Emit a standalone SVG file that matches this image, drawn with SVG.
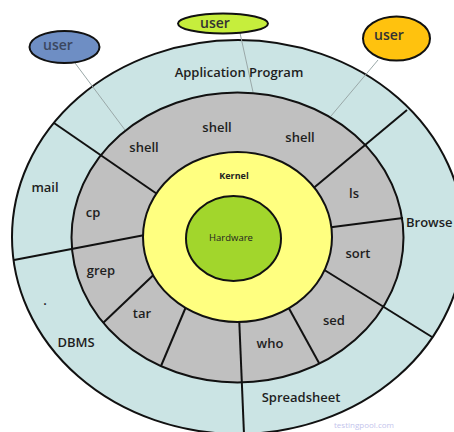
<svg xmlns="http://www.w3.org/2000/svg" width="454" height="432" viewBox="0 0 454 432">
  <style>
    .ring { stroke: #111; stroke-width: 2; }
    .div { stroke: #111; stroke-width: 2; fill: none; }
    .link { stroke: #9aa8a8; stroke-width: 1; fill: none; }
    .lbl { font-family: "Open Sans", "Noto Sans", sans-serif; font-size: 13px; font-weight: 600; fill: #1e1e1e; text-anchor: middle; }
    .user { font-family: "Open Sans", "Noto Sans", sans-serif; font-size: 14px; font-weight: 600; text-anchor: middle; }
    .core { font-family: "Open Sans", "Noto Sans", sans-serif; text-anchor: middle; fill: #222; }
  </style>
  <rect width="454" height="432" fill="#ffffff"/>

  <!-- application layer -->
  <g id="application-ring">
    <ellipse class="ring" cx="238" cy="237" rx="226" ry="197" fill="#cbe4e4"/>
  </g>

  <!-- shell / command layer -->
  <g id="shell-ring">
    <ellipse class="ring" cx="237.5" cy="237.5" rx="166" ry="145" fill="#c0c0c0"/>
  </g>

  <!-- segment dividers and user links -->
  <g id="connectors">
    <line class="div" x1="54" y1="123" x2="160" y2="196"/>
    <line class="div" x1="14" y1="260" x2="150" y2="234"/>
    <line class="div" x1="407" y1="110" x2="310" y2="191"/>
    <line class="div" x1="403" y1="218" x2="325" y2="228"/>
    <line class="div" x1="432" y1="337" x2="318" y2="266"/>
    <line class="div" x1="244" y1="434" x2="239" y2="315"/>
    <line class="div" x1="103" y1="323" x2="165" y2="264"/>
    <line class="div" x1="161" y1="366" x2="188" y2="302"/>
    <line class="div" x1="319" y1="363" x2="286" y2="303"/>
    <line class="link" x1="75" y1="63" x2="125" y2="130"/>
    <line class="link" x1="240" y1="33" x2="253" y2="92"/>
    <line class="link" x1="378" y1="60" x2="331" y2="116"/>
  </g>

  <!-- kernel layer -->
  <g id="kernel">
    <ellipse class="ring" cx="237.5" cy="237" rx="94.5" ry="85" fill="#ffff80"/>
    <text class="core" x="234" y="179" font-size="9" font-weight="bold" fill="#3a3f4a">Kernel</text>
  </g>

  <!-- hardware core -->
  <g id="hardware">
    <ellipse class="ring" cx="233.5" cy="238.5" rx="47.5" ry="42.5" fill="#a2d62c"/>
    <text class="core" x="231" y="240.5" font-size="9.5">Hardware</text>
  </g>

  <!-- users -->
  <g id="user-left">
    <ellipse class="ring" cx="64.5" cy="47" rx="35" ry="16" fill="#6e8ec4"/>
    <text class="user" x="58" y="50" fill="#3b4760">user</text>
  </g>
  <g id="user-top">
    <ellipse class="ring" cx="223" cy="23.5" rx="45" ry="10" fill="#c6ee3c"/>
    <text class="user" x="215" y="27.5" fill="#333">user</text>
  </g>
  <g id="user-right">
    <ellipse class="ring" cx="396.5" cy="38.5" rx="33.5" ry="22" fill="#ffc20e"/>
    <text class="user" x="389" y="40" fill="#333">user</text>
  </g>

  <!-- application labels -->
  <g id="application-labels">
    <text class="lbl" x="239" y="77">Application Program</text>
    <text class="lbl" x="45" y="192">mail</text>
    <text class="lbl" x="45" y="305">.</text>
    <text class="lbl" x="76" y="347">DBMS</text>
    <text class="lbl" x="301" y="402">Spreadsheet</text>
    <text class="lbl" x="406" y="227" style="text-anchor: start">Browse</text>
  </g>

  <!-- command labels -->
  <g id="command-labels">
    <text class="lbl" x="144" y="152">shell</text>
    <text class="lbl" x="217" y="132">shell</text>
    <text class="lbl" x="300" y="142">shell</text>
    <text class="lbl" x="354" y="198">ls</text>
    <text class="lbl" x="358" y="258">sort</text>
    <text class="lbl" x="334" y="325">sed</text>
    <text class="lbl" x="270" y="348">who</text>
    <text class="lbl" x="142" y="318">tar</text>
    <text class="lbl" x="101" y="275">grep</text>
    <text class="lbl" x="93" y="217">cp</text>
  </g>

  <text x="364" y="428" font-family="Open Sans, sans-serif" font-size="8" fill="#c4c4ec" text-anchor="middle">testingpool.com</text>
</svg>
